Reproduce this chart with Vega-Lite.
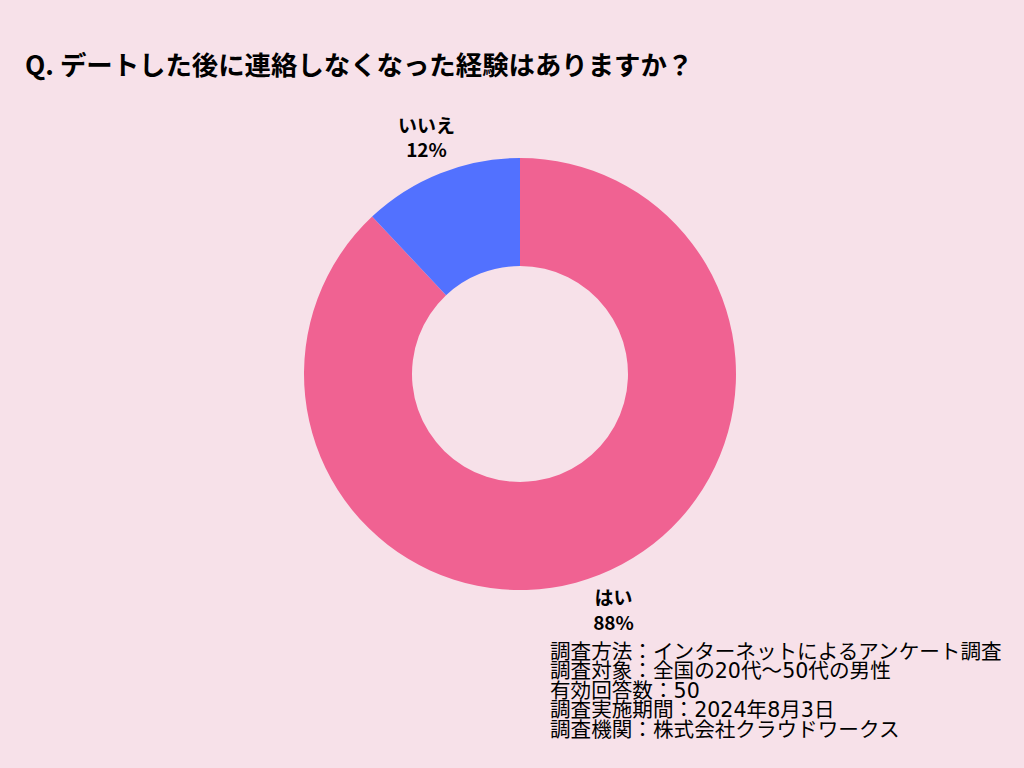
{
  "$schema": "https://vega.github.io/schema/vega-lite/v6.json",
  "width": 1008,
  "height": 748,
  "autosize": {"type": "none"},
  "padding": {"left": 16, "top": 0, "right": 0, "bottom": 20},
  "background": "#F7E1E9",
  "config": {"view": {"stroke": null}},
  "title": {
    "text": "Q. デートした後に連絡しなくなった経験はありますか？",
    "anchor": "start",
    "frame": "group",
    "orient": "top",
    "offset": -80,
    "dx": 9,
    "font": "Noto Sans CJK JP",
    "fontSize": 26.4,
    "fontWeight": "bold",
    "color": "#000000"
  },
  "layer": [
    {
      "data": {
        "values": [
          {"answer": "はい", "pct": 88, "label": "はい\n88%", "order": 1},
          {"answer": "いいえ", "pct": 12, "label": "いいえ\n12%", "order": 2}
        ]
      },
      "encoding": {
        "theta": {"field": "pct", "type": "quantitative", "stack": true},
        "order": {"field": "order", "type": "quantitative"}
      },
      "layer": [
        {
          "mark": {"type": "arc", "outerRadius": 216, "innerRadius": 108},
          "encoding": {
            "color": {
              "field": "answer",
              "type": "nominal",
              "scale": {"domain": ["はい", "いいえ"], "range": ["#F06292", "#5271FF"]},
              "legend": null
            }
          }
        },
        {
          "mark": {
            "type": "text",
            "radius": 254,
            "dy": -11,
            "font": "Noto Sans CJK JP",
            "fontSize": 19,
            "fontWeight": "bold",
            "lineBreak": "\n",
            "lineHeight": 24.5,
            "baseline": "middle",
            "color": "#000000"
          },
          "encoding": {"text": {"field": "label", "type": "nominal"}}
        }
      ]
    },
    {
      "data": {
        "values": [
          {"note": "調査方法：インターネットによるアンケート調査\n調査対象：全国の20代〜50代の男性\n有効回答数：50\n調査実施期間：2024年8月3日\n調査機関：株式会社クラウドワークス"}
        ]
      },
      "mark": {
        "type": "text",
        "align": "left",
        "baseline": "top",
        "font": "DejaVu Sans, Noto Sans CJK JP",
        "fontSize": 20.6,
        "lineBreak": "\n",
        "lineHeight": 19.4,
        "color": "#000000"
      },
      "encoding": {
        "text": {"field": "note", "type": "nominal"},
        "x": {"value": 534},
        "y": {"value": 643}
      }
    }
  ]
}
